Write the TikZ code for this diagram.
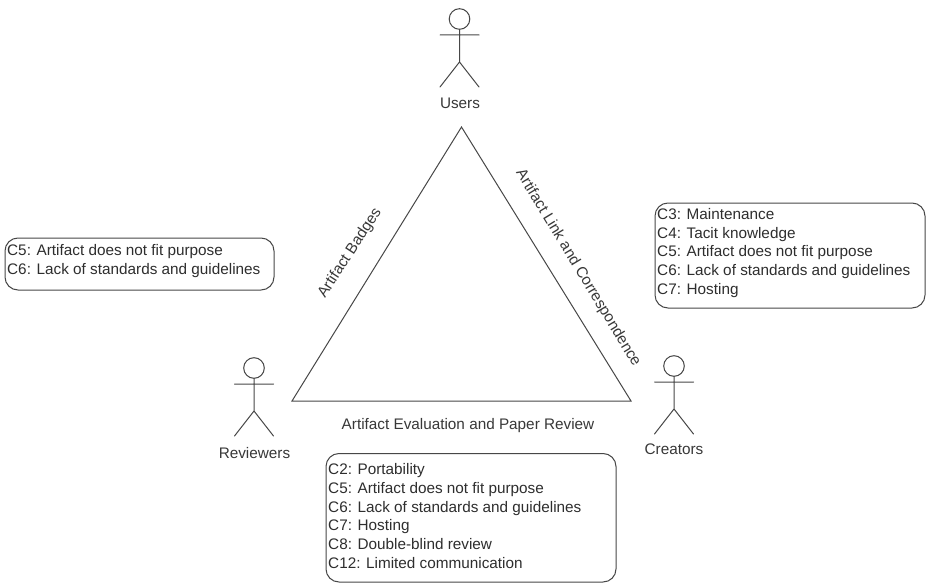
\documentclass[tikz,border=0pt]{standalone}
\usepackage{fontspec}
\setmainfont{Liberation Sans}
\begin{document}
\begin{tikzpicture}[x=1pt,y=-1pt,line cap=round,
  ln/.style={draw=black!72,line width=1pt},
  lbl/.style={font=\fontsize{15.3}{18}\selectfont,text=black!78,inner sep=0pt},
  box/.style={ln,rounded corners=13pt},
  boxt/.style={font=\fontsize{15.3}{18.75}\selectfont,text=black!82,inner sep=0pt,align=left,anchor=west},
  actor/.pic={
    \draw[ln] (0,0) circle (10.3);
    \draw[ln] (0,10.3) -- (0,43) (-19.5,16) -- (19.5,16) (0,43) -- (-19.5,68) (0,43) -- (19.5,68);
  }]
\useasboundingbox (0,0) rectangle (926,583);
\fill[white] (0,0) rectangle (926,583);
\pic at (459.5,19) {actor};
\pic at (254,368) {actor};
\pic at (674,366) {actor};
\node[lbl] (users) at (460,103) {Users};
\node[lbl] (reviewers) at (254.5,453) {Reviewers};
\node[lbl] (creators) at (674,449) {Creators};
\coordinate (top) at (461.5,127);
\coordinate (left) at (292,401);
\coordinate (right) at (631,401);
\draw[ln,line join=miter] (top) -- (left) -- (right) -- cycle;
\node[lbl,rotate=-58.8] (link) at (578,268) {Artifact Link and Correspondence};
\node[lbl,rotate=57] (badges) at (350,253) {Artifact Badges};
\node[lbl] (eval) at (468,425.5) {Artifact Evaluation and Paper Review};
\draw[box] (5,238) rectangle (274,290);
\node[boxt] (t1) at (7,261) {C5: Artifact does not fit purpose\\C6: Lack of standards and guidelines};
\draw[box] (655,203) rectangle (925,308);
\node[boxt] (t2) at (657,253) {C3: Maintenance\\C4: Tacit knowledge\\C5: Artifact does not fit purpose\\C6: Lack of standards and guidelines\\C7: Hosting};
\draw[box] (326,453.5) rectangle (616,582);
\node[boxt] (t3) at (328,516) {C2: Portability\\C5: Artifact does not fit purpose\\C6: Lack of standards and guidelines\\C7: Hosting\\C8: Double-blind review\\C12: Limited communication};
\end{tikzpicture}
\end{document}
